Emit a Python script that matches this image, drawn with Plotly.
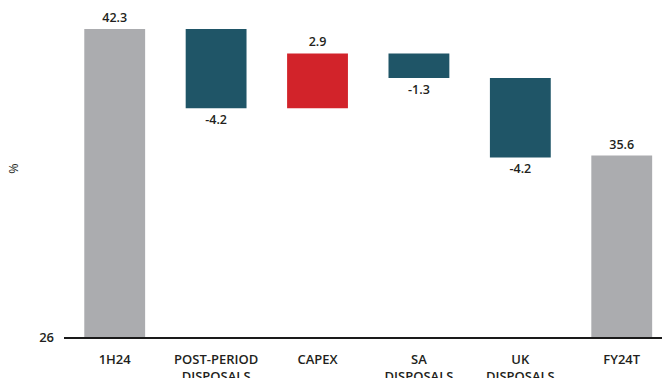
import plotly.graph_objects as go

# Waterfall steps: first and last are absolute levels, the rest are changes
categories = ["1H24", "POST-PERIOD<br>DISPOSALS", "CAPEX", "SA<br>DISPOSALS", "UK<br>DISPOSALS", "FY24T"]
values = [42.3, -4.2, 2.9, -1.3, -4.2, 35.6]
measures = ["absolute", "relative", "relative", "relative", "relative", "absolute"]
value_labels = ["42.3", "-4.2", "2.9", "-1.3", "-4.2", "35.6"]

y_floor = 26
y_top = 43.83

GREY = "#ABACAF"
TEAL = "#1F5567"
RED = "#D2232A"

bases, heights, colors = [], [], []
running = 0.0
for v, m in zip(values, measures):
    if m == "absolute":
        running = v
        bases.append(y_floor)
        heights.append(v - y_floor)
        colors.append(GREY)
    else:
        bases.append(running)
        heights.append(v)
        running += v
        colors.append(RED if v > 0 else TEAL)

font_family = "Open Sans, Noto Sans, sans-serif"
INK = "#231F20"

fig = go.Figure(
    go.Bar(
        x=categories,
        y=heights,
        base=bases,
        marker=dict(color=colors, line=dict(width=0)),
        width=0.6,
        text=value_labels,
        textposition="outside",
        textfont=dict(family=font_family, size=12.5, color=INK, weight=600),
        cliponaxis=False,
        hoverinfo="skip",
    )
)

fig.update_layout(
    width=662,
    height=378,
    margin=dict(l=64, r=0, t=0, b=41, autoexpand=False),
    paper_bgcolor="white",
    plot_bgcolor="white",
    showlegend=False,
    font=dict(family=font_family, size=12, color=INK),
    xaxis=dict(
        range=[-0.5, 5.397],
        automargin=False,
        showline=True,
        linecolor="#1A1A1A",
        linewidth=2,
        showgrid=False,
        ticks="",
        tickfont=dict(family=font_family, size=13, color=INK, weight=600),
        ticklabelstandoff=9,
    ),
    yaxis=dict(
        range=[y_floor, y_top],
        automargin=False,
        tickvals=[y_floor],
        ticktext=["26"],
        showgrid=False,
        zeroline=False,
        showline=False,
        ticks="",
        ticklabelstandoff=9,
        tickfont=dict(family=font_family, size=13, color=INK, weight=600),
        title=dict(text="%", font=dict(family=font_family, size=12.5, color=INK), standoff=17),
    ),
)

fig.write_html("out.html")
